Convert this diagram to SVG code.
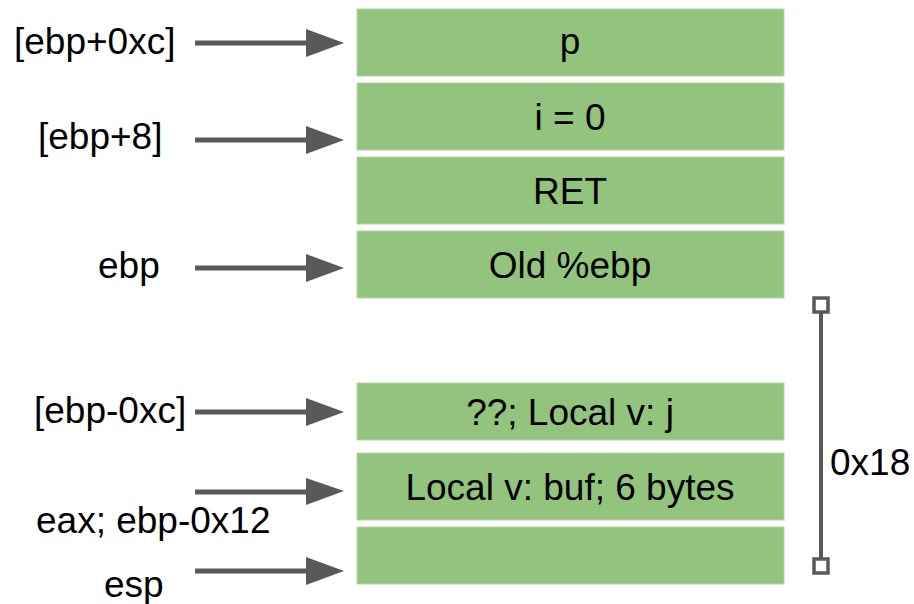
<svg xmlns="http://www.w3.org/2000/svg" width="914" height="604" viewBox="0 0 914 604">
<defs>
<style>
.box{fill:#93c47d;stroke:#b6d7a8;stroke-width:1}
.t{font-family:"Liberation Sans",Arial,sans-serif;font-size:37px;fill:#000}
.c{text-anchor:middle}
.ln{stroke:#595959;stroke-width:5;fill:none}
.hd{fill:#595959}
.sq{fill:#fff;stroke:#595959;stroke-width:3.5}
</style>
</defs>
<rect width="914" height="604" fill="#fff"/>
<g id="n-p"><rect class="box" x="357" y="9" width="427" height="67"/><text class="t c" x="570" y="54">p</text></g>
<g id="n-i"><rect class="box" x="357" y="83" width="427" height="67"/><text class="t c" x="570" y="130">i = 0</text></g>
<g id="n-ret"><rect class="box" x="357" y="157" width="427" height="67"/><text class="t c" x="570" y="204">RET</text></g>
<g id="n-oldebp"><rect class="box" x="357" y="231" width="427" height="67"/><text class="t c" x="570" y="278">Old %ebp</text></g>
<g id="n-j"><rect class="box" x="357" y="383" width="427" height="57"/><text class="t c" x="570" y="425">??; Local v: j</text></g>
<g id="n-buf"><rect class="box" x="357" y="453" width="427" height="67"/><text class="t c" x="570" y="500">Local v: buf; 6 bytes</text></g>
<g id="n-esp"><rect class="box" x="357" y="527" width="427" height="57"/></g>
<g id="labels">
<text class="t" x="14" y="54">[ebp+0xc]</text>
<text class="t" x="38" y="149">[ebp+8]</text>
<text class="t" x="98" y="278">ebp</text>
<text class="t" x="34" y="423">[ebp-0xc]</text>
<text class="t" x="36" y="533">eax; ebp-0x12</text>
<text class="t" x="104" y="597">esp</text>
<text class="t" x="830" y="475">0x18</text>
</g>
<g id="connectors">
<line class="ln" x1="195" y1="43" x2="310" y2="43"/><polygon class="hd" points="306,29 344,43 306,57"/>
<line class="ln" x1="195" y1="140" x2="310" y2="140"/><polygon class="hd" points="306,126 344,140 306,154"/>
<line class="ln" x1="195" y1="268" x2="310" y2="268"/><polygon class="hd" points="306,254 344,268 306,282"/>
<line class="ln" x1="195" y1="412" x2="310" y2="412"/><polygon class="hd" points="306,398 344,412 306,426"/>
<line class="ln" x1="195" y1="492" x2="310" y2="492"/><polygon class="hd" points="306,478 344,491 306,505"/>
<line class="ln" x1="195" y1="571" x2="310" y2="571"/><polygon class="hd" points="306,557 344,571 306,585"/>
<line stroke="#595959" stroke-width="4" x1="821" y1="305" x2="821" y2="566"/>
<rect class="sq" x="814" y="298" width="14" height="14"/>
<rect class="sq" x="814" y="559" width="14" height="14"/>
</g>
</svg>
